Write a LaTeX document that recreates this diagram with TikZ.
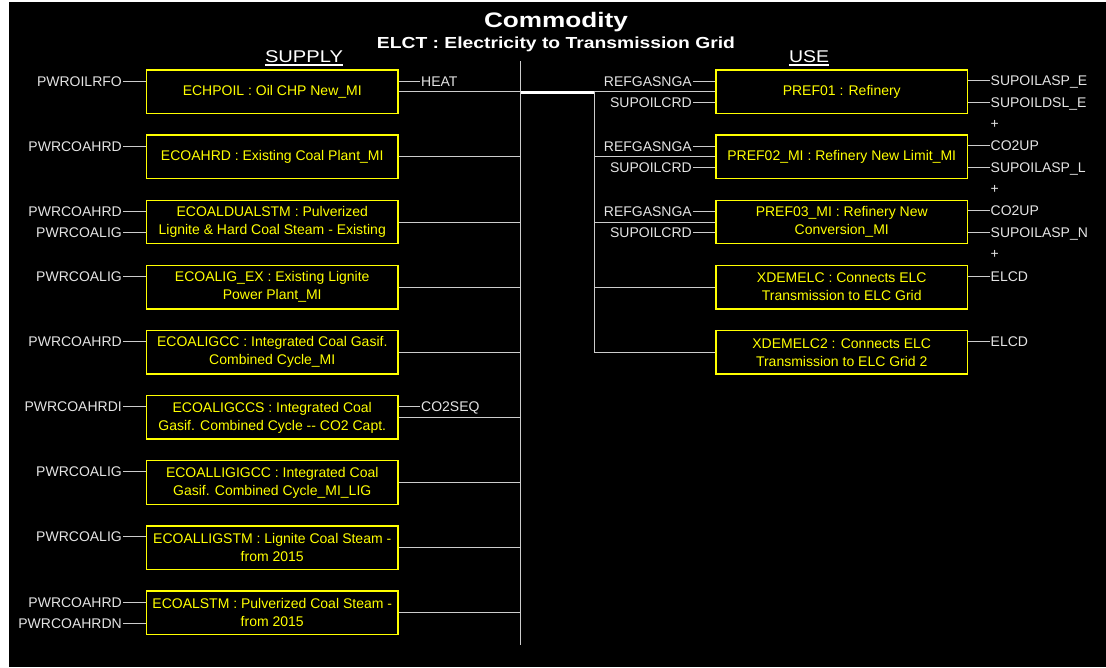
\documentclass[tikz,border=0pt]{standalone}
\usepackage{fontspec}
\setmainfont{Liberation Sans}
\usepackage{graphicx}
\definecolor{boxyellow}{HTML}{FFFF00}
\definecolor{wirec}{HTML}{CCCCCC}
\definecolor{lblc}{HTML}{E4E4E4}
\begin{document}
\begin{tikzpicture}[x=1pt,y=-1pt,
  proc/.style={draw=boxyellow, line width=1.3pt, text=boxyellow, minimum width=251.5pt, minimum height=43.5pt, inner sep=0pt, align=center, font=\fontsize{14}{18}\selectfont},
  lblL/.style={anchor=east, text=lblc, inner sep=0pt, text height=10pt, text depth=0pt, font=\fontsize{14}{14}\selectfont},
  lblR/.style={lblL, anchor=west},
  conn/.style={draw=wirec, line width=1pt},
  hdr/.style={anchor=base, text=white, inner sep=0pt},
]
\fill[white] (0,0) rectangle (1106,667);
\fill[black] (9,2) rectangle (1106,667);
\useasboundingbox (0,0) rectangle (1106,667);

% headers
\node[hdr] (title) at (556,27) {\resizebox{144pt}{\height}{\bfseries\fontsize{21}{21}\selectfont Commodity}};
\node[hdr] (sub) at (556,48) {\resizebox{358pt}{\height}{\bfseries\fontsize{16}{16}\selectfont ELCT : Electricity to Transmission Grid}};
\node[hdr] (supply) at (304,62.5) {\resizebox{78pt}{\height}{\fontsize{17}{17}\selectfont SUPPLY}};
\node[hdr] (use) at (809,62.5) {\resizebox{40pt}{\height}{\fontsize{17}{17}\selectfont USE}};
\draw[white, line width=1.3pt] ([yshift=-2pt]supply.south west) -- ([yshift=-2pt]supply.south east);
\draw[white, line width=1.3pt] ([yshift=-2pt]use.south west) -- ([yshift=-2pt]use.south east);

% supply boxes
\node[proc] (L1) at (272.25,91.75) {ECHPOIL : Oil CHP New\_MI};
\node[proc] (L2) at (272.25,156.875) {ECOAHRD : Existing Coal Plant\_MI};
\node[proc] (L3) at (272.25,222) {ECOALDUALSTM : Pulverized\\Lignite \& Hard Coal Steam - Existing};
\node[proc] (L4) at (272.25,287.125) {ECOALIG\_EX : Existing Lignite\\Power Plant\_MI};
\node[proc] (L5) at (272.25,352.25) {ECOALIGCC : Integrated Coal Gasif.\\Combined Cycle\_MI};
\node[proc] (L6) at (272.25,417.375) {ECOALIGCCS : Integrated Coal\\Gasif. Combined Cycle -{}- CO2 Capt.};
\node[proc] (L7) at (272.25,482.5) {ECOALLIGIGCC : Integrated Coal\\Gasif. Combined Cycle\_MI\_LIG};
\node[proc] (L8) at (272.25,547.625) {ECOALLIGSTM : Lignite Coal Steam -\\from 2015};
\node[proc] (L9) at (272.25,612.75) {ECOALSTM : Pulverized Coal Steam -\\from 2015};

% supply inputs
\node[lblL] (p1a) at (122,81) {PWROILRFO};
\node[lblL] (p2a) at (122,146.1) {PWRCOAHRD};
\node[lblL] (p3a) at (122,211.25) {PWRCOAHRD};
\node[lblL] (p3b) at (122,232.75) {PWRCOALIG};
\node[lblL] (p4a) at (122,276.4) {PWRCOALIG};
\node[lblL] (p5a) at (122,341.5) {PWRCOAHRD};
\node[lblL] (p6a) at (122,406.6) {PWRCOAHRDI};
\node[lblL] (p7a) at (122,471.75) {PWRCOALIG};
\node[lblL] (p8a) at (122,536.9) {PWRCOALIG};
\node[lblL] (p9a) at (122,602) {PWRCOAHRD};
\node[lblL] (p9b) at (122,623.5) {PWRCOAHRDN};
\foreach \l/\b in {p1a/L1,p2a/L2,p3a/L3,p3b/L3,p4a/L4,p5a/L5,p6a/L6,p7a/L7,p8a/L8,p9a/L9,p9b/L9}
  \draw[conn, shorten <=1pt] (\l.east) -- (\l.east -| \b.west);

% supply extra outputs
\node[lblR] (heat) at (421,81) {HEAT};
\node[lblR] (co2seq) at (421,406.6) {CO2SEQ};
\draw[conn, shorten >=1pt] (heat.west -| L1.east) -- (heat.west);
\draw[conn, shorten >=1pt] (co2seq.west -| L6.east) -- (co2seq.west);

% buses
\coordinate (busT) at (520.5,61);
\coordinate (busB) at (520.5,644.5);
\coordinate (rbusT) at (594,92);
\coordinate (rbusB) at (594,352.5);
\draw[conn] (busT) -- (busB);
\foreach \b in {L1,L2,L3,L4,L5,L6,L7,L8,L9}
  \draw[conn] (\b.east) -- (\b.east -| busT);
\draw[conn] (rbusT) -- (rbusB);
\draw[white, line width=3pt] (busT |- rbusT) -- (rbusT);

% use boxes
\node[proc] (R1) at (841.75,91.75) {PREF01 : Refinery};
\node[proc] (R2) at (841.75,156.875) {PREF02\_MI : Refinery New Limit\_MI};
\node[proc] (R3) at (841.75,222) {PREF03\_MI : Refinery New\\Conversion\_MI};
\node[proc] (R4) at (841.75,287.125) {XDEMELC : Connects ELC\\Transmission to ELC Grid};
\node[proc] (R5) at (841.75,352.25) {XDEMELC2 : Connects ELC\\Transmission to ELC Grid 2};
\foreach \b in {R1,R2,R3,R4,R5}
  \draw[conn] (\b.west) -- (\b.west -| rbusT);

% use inputs
\node[lblL] (r1a) at (692,81) {REFGASNGA};
\node[lblL] (r1b) at (692,102.5) {SUPOILCRD};
\node[lblL] (r2a) at (692,146.1) {REFGASNGA};
\node[lblL] (r2b) at (692,167.6) {SUPOILCRD};
\node[lblL] (r3a) at (692,211.25) {REFGASNGA};
\node[lblL] (r3b) at (692,232.75) {SUPOILCRD};
\foreach \l/\b in {r1a/R1,r1b/R1,r2a/R2,r2b/R2,r3a/R3,r3b/R3}
  \draw[conn, shorten <=1pt] (\l.east) -- (\l.east -| \b.west);

% use outputs
\node[lblR] (o1a) at (990.5,80.7) {SUPOILASP\_E};
\node[lblR] (o1b) at (990.5,102.3) {SUPOILDSL\_E};
\node[lblR] (o2a) at (990.5,145.8) {CO2UP};
\node[lblR] (o2b) at (990.5,167.4) {SUPOILASP\_L};
\node[lblR] (o3a) at (990.5,210.9) {CO2UP};
\node[lblR] (o3b) at (990.5,232.5) {SUPOILASP\_N};
\node[lblR] (o4a) at (990.5,276) {ELCD};
\node[lblR] (o5a) at (990.5,341.2) {ELCD};
\foreach \l/\b in {o1a/R1,o1b/R1,o2a/R2,o2b/R2,o3a/R3,o3b/R3,o4a/R4,o5a/R5}
  \draw[conn, shorten >=0.5pt] (\l.west -| \b.east) -- (\l.west);
\node[lblL, anchor=center] (plus1) at (994.7,123.3) {+};
\node[lblL, anchor=center] (plus2) at (994.7,188.4) {+};
\node[lblL, anchor=center] (plus3) at (994.7,253.5) {+};
\end{tikzpicture}
\end{document}
